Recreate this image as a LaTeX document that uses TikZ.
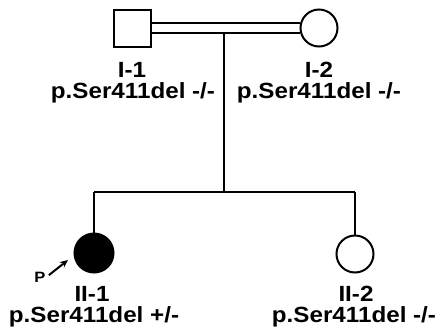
\documentclass[tikz,border=0pt]{standalone}
\usepackage{fontspec}
\setmainfont[FakeStretch=1.1]{Liberation Sans}
\usetikzlibrary{arrows.meta,positioning,calc}
\tikzset{every picture/.style={line width=2pt}}
\tikzset{
  male/.style={draw, rectangle, minimum size=37pt, inner sep=0pt},
  female/.style={draw, circle, minimum size=37pt, inner sep=0pt},
  idlabel/.style={anchor=base, inner sep=0pt, font=\fontsize{22}{22}\selectfont\bfseries},
  plabel/.style={inner sep=0pt, font=\fontsize{15}{15}\selectfont\bfseries},
}

\begin{document}
\begin{tikzpicture}[x=1pt, y=-1pt]
    \useasboundingbox (0,0) rectangle (440,333);

    % parents
    \node[male] (i1) at (132,28) {};
    \node[female] (i2) at (319,28) {};

    % consanguineous mating line
    \draw (i1.east |- i2.165) -- (i2.165);
    \draw (i1.east |- i2.195) -- (i2.195);

    % line of descent and sibship
    \coordinate (mid) at (224,33);
    \coordinate (sib) at (224,192);
    \coordinate (sibl) at (94,192);
    \coordinate (sibr) at (355,192);
    \draw (mid) -- (sib);
    \draw (sibl) -- (sibr);

    % children
    \node[female, fill=black, minimum size=39pt] (ii1) at (94,253) {};
    \node[female] (ii2) at (355,254) {};
    \draw (sibl) -- (ii1.north);
    \draw (sibr) -- (ii2.north);

    % proband
    \node[plabel] (p) at (40,277) {P};
    \coordinate (ptip) at (68,260);
    \draw[-{Stealth[length=8pt,width=7pt]}, shorten <=3pt] (p.east) -- (ptip);

    % labels
    \node[idlabel] (i1id) at (132,77) {I-1};
    \node[idlabel] (i1gt) at (133,98) {p.Ser411del -/-};
    \node[idlabel] (i2id) at (319,77) {I-2};
    \node[idlabel] (i2gt) at (319,98) {p.Ser411del -/-};
    \node[idlabel] (ii1id) at (92,301) {II-1};
    \node[idlabel] (ii1gt) at (94,322) {p.Ser411del +/-};
    \node[idlabel] (ii2id) at (356,301) {II-2};
    \node[idlabel] (ii2gt) at (354,322) {p.Ser411del -/-};
\end{tikzpicture}
\end{document}
